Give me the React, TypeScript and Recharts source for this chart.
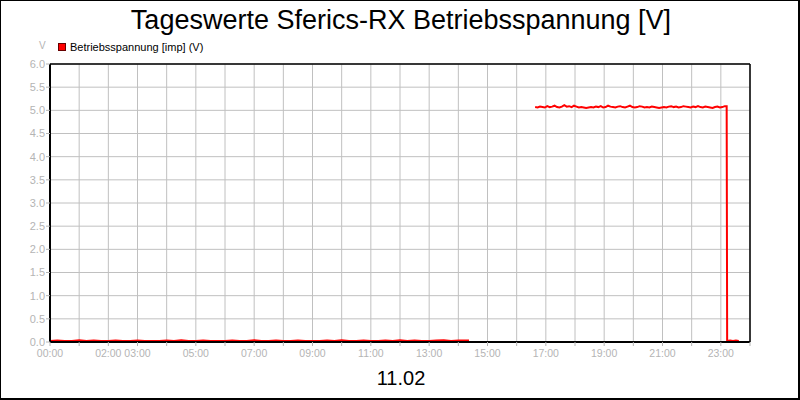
import React from 'react';
import { LineChart, Line, XAxis, YAxis, CartesianGrid, ReferenceLine } from 'recharts';

// minutes since midnight
const lowStart = 0;
const lowStep = 15;
const lowValues = [
  0.02, 0.03, 0.02, 0.02, 0.04, 0.02, 0.03, 0.02, 0.02, 0.03,
  0.02, 0.02, 0.03, 0.02, 0.02, 0.02, 0.03, 0.02, 0.04, 0.02,
  0.02, 0.03, 0.02, 0.02, 0.02, 0.03, 0.02, 0.02, 0.04, 0.02,
  0.02, 0.03, 0.02, 0.02, 0.03, 0.02, 0.02, 0.02, 0.03, 0.02,
  0.04, 0.02, 0.02, 0.03, 0.02, 0.02, 0.03, 0.02, 0.04, 0.02,
  0.03, 0.02, 0.02, 0.03, 0.04, 0.02, 0.03, 0.03,
];
const lowEnd = 862;

const highStart = 998;
const highStep = 5;
const highValues = [
  5.07, 5.06, 5.08, 5.07, 5.06, 5.09, 5.07, 5.08, 5.10, 5.07, 5.06, 5.08, 5.11, 5.08, 5.09, 5.07, 5.10, 5.08, 5.06, 5.07,
  5.06, 5.05, 5.06, 5.07, 5.06, 5.08, 5.07, 5.09, 5.06, 5.07, 5.10, 5.08, 5.07, 5.06, 5.08, 5.09, 5.07, 5.06, 5.08, 5.10,
  5.07, 5.06, 5.07, 5.09, 5.08, 5.06, 5.07, 5.06, 5.08, 5.07, 5.06, 5.05, 5.06, 5.07, 5.06, 5.08, 5.09, 5.07, 5.08, 5.06,
  5.07, 5.09, 5.08, 5.07, 5.06, 5.08, 5.07, 5.09, 5.07, 5.06, 5.08, 5.07, 5.06, 5.05, 5.07, 5.08, 5.06, 5.07, 5.09,
];
const highLastTime = 1392;
const highLastValue = 5.09;

const tailTimes = [1393, 1399, 1405, 1411, 1417];
const tailValues = [0.02, 0.03, 0.02, 0.03, 0.02];

const hourTicks = [0, 1, 2, 3, 4, 5, 6, 7, 8, 9, 10, 11, 12, 13, 14, 15, 16, 17, 18, 19, 20, 21, 22, 23, 24];
const labeledHours = [0, 2, 3, 5, 7, 9, 11, 13, 15, 17, 19, 21, 23];
const yTicks = [0, 0.5, 1, 1.5, 2, 2.5, 3, 3.5, 4, 4.5, 5, 5.5, 6];

const title = 'Tageswerte Sferics-RX Betriebsspannung [V]';
const seriesName = 'Betriebsspannung [imp] (V)';
const dateLabel = '11.02';

type Pt = { t: number; v: number | null };

const data: Pt[] = [
  ...lowValues.map((v, i) => ({ t: lowStart + i * lowStep, v })),
  { t: lowEnd, v: 0.03 },
  { t: 930, v: null },
  ...highValues.map((v, i) => ({ t: highStart + i * highStep, v })),
  { t: highLastTime, v: highLastValue },
  ...tailValues.map((v, i) => ({ t: tailTimes[i], v })),
];

const gray = '#b4b4b4';
const font = '"Liberation Sans", Arial, sans-serif';

export default function App() {
  return (
    <div
      style={{
        position: 'absolute',
        left: 0,
        top: 0,
        width: 800,
        height: 400,
        boxSizing: 'border-box',
        borderTop: '1px solid #000',
        borderLeft: '1px solid #000',
        borderRight: '2px solid #000',
        borderBottom: '2px solid #000',
        background: '#fff',
        fontFamily: font,
        overflow: 'hidden',
      }}
    >
      <div style={{ position: 'absolute', left: -1, top: -1 }}>
        <LineChart width={800} height={400} data={data} margin={{ top: 64, right: 50, left: 0, bottom: 0 }}>
          <CartesianGrid stroke="#c0c0c0" strokeWidth={1} />
          <XAxis
            dataKey="t"
            type="number"
            domain={[0, 1440]}
            ticks={hourTicks.map(h => h * 60)}
            tickFormatter={(m: number) => {
              const h = Math.round(m / 60);
              return labeledHours.includes(h) ? `${String(h).padStart(2, '0')}:00` : '';
            }}
            interval={0}
            height={58}
            tickSize={4}
            tickMargin={4}
            axisLine={{ stroke: '#000', strokeWidth: 2 }}
            tickLine={{ stroke: gray }}
            tick={{ fontSize: 10.5, fill: gray, fontFamily: font }}
          />
          <YAxis
            type="number"
            domain={[0, 6]}
            ticks={yTicks}
            tickFormatter={(v: number) => v.toFixed(1)}
            interval={0}
            width={50}
            tickSize={4}
            tickMargin={1}
            axisLine={{ stroke: '#000', strokeWidth: 2 }}
            tickLine={{ stroke: gray }}
            tick={{ fontSize: 11, fill: gray, fontFamily: font }}
          />
          <ReferenceLine y={6} stroke="#000" strokeWidth={1.5} />
          <ReferenceLine x={1440} stroke="#000" strokeWidth={1.5} />
          <Line
            dataKey="v"
            type="linear"
            stroke="#ff0000"
            strokeWidth={2}
            dot={false}
            connectNulls={false}
            isAnimationActive={false}
          />
        </LineChart>
      </div>
      <div
        style={{
          position: 'absolute',
          left: 0,
          width: 800,
          top: 1,
          textAlign: 'center',
          fontSize: 27,
          lineHeight: '36px',
          color: '#000',
        }}
      >
        {title}
      </div>
      <div style={{ position: 'absolute', left: 38, top: 39, fontSize: 10, color: gray }}>V</div>
      <div style={{ position: 'absolute', left: 57, top: 40, display: 'flex', alignItems: 'center', fontSize: 11, color: '#000' }}>
        <span style={{ width: 6, height: 6, background: '#ff0000', border: '1px solid #600', marginRight: 4 }} />
        <span>{seriesName}</span>
      </div>
      <div
        style={{
          position: 'absolute',
          left: 0,
          width: 800,
          top: 366,
          textAlign: 'center',
          fontSize: 20,
          color: '#000',
        }}
      >
        {dateLabel}
      </div>
    </div>
  );
}
